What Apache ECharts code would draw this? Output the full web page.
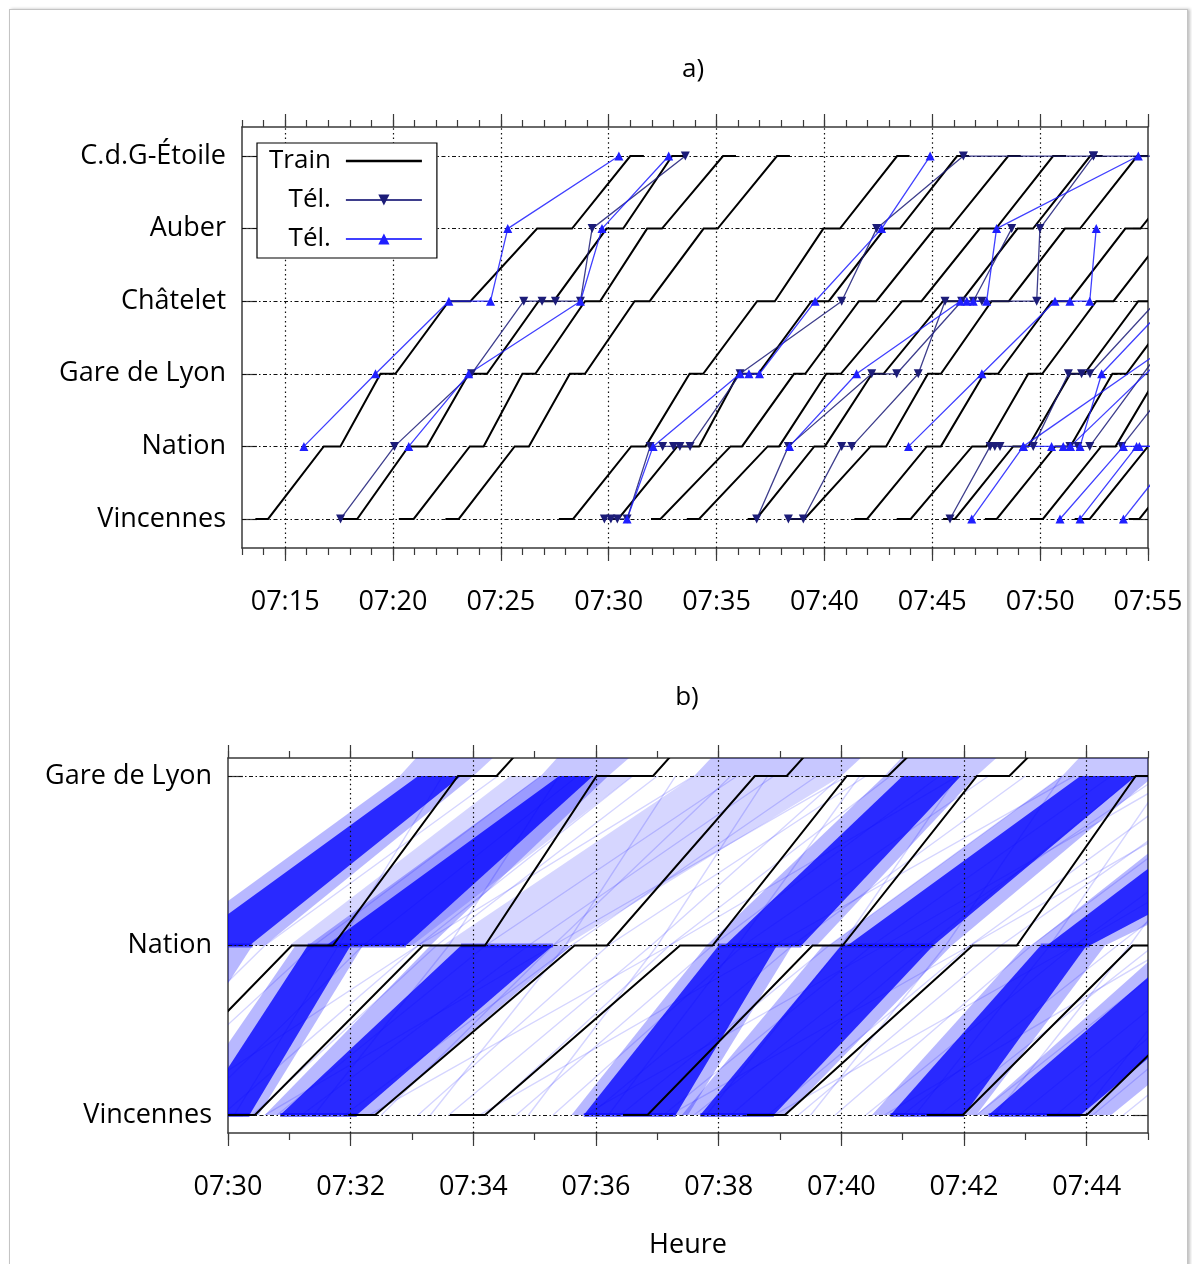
<!DOCTYPE html>
<html><head><meta charset="utf-8">
<script src="https://cdn.jsdelivr.net/npm/echarts@6/dist/echarts.min.js"></script>
<style>
html,body{margin:0;padding:0;background:#fff;}
#frame{position:absolute;left:9px;top:9px;width:1177px;height:1270px;border:1px solid #c4c4c4;box-shadow:2px 0 3px rgba(0,0,0,0.25);}
#chart{position:absolute;left:0;top:0;width:1192px;height:1264px;}
</style></head><body>
<div id="frame"></div>
<div id="chart"></div>
<script>
// ---------- DATA (minutes after 07:00) ----------
const stations = ['Vincennes','Nation','Gare de Lyon','Châtelet','Auber','C.d.G-Étoile'];
const stationLevels = [0,1,2,3,4,5];
const bottomStationLevels = [0,1,2];

const topMajorTicks = [15,20,25,30,35,40,45,50,55];
const topMinorTicks = [13,14,15,16,17,18,19,20,21,22,23,24,25,26,27,28,29,30,31,32,33,34,35,36,37,38,39,40,41,42,43,44,45,46,47,48,49,50,51,52,53,54,55];
const bottomMajorTicks = [30,32,34,36,38,40,42,44];
const bottomMinorTicks = [30,31,32,33,34,35,36,37,38,39,40,41,42,43,44,45];

// trains: [arrival, departure] at each station
const trainVincennes = [[13.62,14.21],[17.64,18.34],[20.27,20.96],[22.43,23.05],[27.69,28.35],[29.98,30.44],[31.96,32.4],[33.62,34.19],[36.44,36.84],[38.46,39.08],[41.39,41.98],[43.35,44.0],[45.5,46.05],[47.44,47.99],[49.53,50.13],[51.6,52.3],[54.1,54.6]];
const trainNation = [[16.79,17.56],[20.72,21.57],[23.56,24.2],[25.64,26.3],[31.04,31.71],[33.18,34.19],[35.65,36.18],[37.37,37.9],[39.53,40.02],[42.14,42.86],[44.75,45.4],[46.85,47.5],[48.75,49.45],[50.7,51.4],[52.83,53.5],[55.0,55.7],[57.3,58.0]];
const trainGareDeLyon = [[19.42,20.11],[23.51,24.36],[26.0,26.6],[28.2,28.9],[33.75,34.38],[36.01,36.93],[38.59,39.11],[40.09,40.76],[42.21,42.74],[44.8,45.4],[47.4,48.05],[49.45,50.1],[51.4,52.05],[53.35,54.0],[55.5,56.1],[57.7,58.3],[60.0,60.6]];
const trainChatelet = [[22.59,23.59],[26.75,27.45],[28.9,29.6],[31.2,31.9],[36.88,37.7],[39.4,40.2],[41.6,42.4],[43.6,44.5],[45.5,46.35],[47.75,48.55],[50.55,51.35],[52.6,53.4],[54.55,55.35],[56.5,57.3],[58.6,59.4],[60.8,61.6],[63.0,63.8]];
const trainAuber = [[26.68,28.3],[29.9,30.67],[31.78,32.47],[34.4,35.05],[39.95,40.72],[42.8,43.5],[45.1,45.8],[47.2,47.95],[48.95,49.67],[51.15,51.85],[53.95,54.65],[56.0,56.7],[57.9,58.6],[59.9,60.6],[62.0,62.7],[64.0,64.7],[66.0,66.7]];
const trainEtoile = [[31.0,31.63],[32.94,33.6],[35.3,35.9],[37.8,38.4],[43.37,43.95],[46.15,46.7],[48.52,49.1],[50.6,51.2],[52.32,52.9],[54.5,55.1],[57.3,57.9],[59.4,60.0],[61.0,61.6],[63.0,63.6],[65.0,65.6],[67.0,67.6],[69.0,69.6]];

// phone traces, top chart: [time, station level]
const telDownTraces = [
  [[17.57,0],[20.07,1],[23.64,2],[26.06,3],[26.91,3],[27.53,3],[28.69,3],[29.23,4],[33.55,5]],
  [[29.8,0],[30.1,0],[30.4,0],[30.85,0],[31.92,1],[32.5,1],[33.0,1],[33.3,1],[33.77,1],[36.09,2],[40.8,3],[42.42,4],[46.44,5],[52.47,5],[57.0,5]],
  [[36.86,0],[38.33,1],[42.19,2],[43.35,2],[46.36,3],[46.9,3],[48.68,4]],
  [[38.33,0],[39.02,0],[40.8,1],[41.27,1],[44.35,2],[45.59,3],[47.3,3],[49.84,3],[49.99,4],[52.47,5]],
  [[45.82,0],[47.68,1],[47.9,1],[48.14,1],[49.68,1],[51.31,2],[51.92,2],[52.31,2],[55.4,3]],
  [[51.38,1],[51.75,1],[52.3,1],[58.0,3.3]],
  [[53.78,1],[57.5,2.4]]
];
const telUpTraces = [
  [[15.87,1],[19.19,2],[22.59,3],[24.52,3],[25.32,4],[30.47,5]],
  [[20.73,1],[23.51,2],[28.69,3],[29.69,4],[32.78,5]],
  [[30.85,0],[32.06,1],[36.09,2],[36.5,2],[36.99,2],[39.57,3],[42.65,4],[44.9,5]],
  [[38.38,1],[41.49,2],[46.3,3],[46.6,3],[46.9,3],[47.52,3],[47.98,4],[54.55,5]],
  [[43.9,1],[47.3,2],[50.69,3],[51.38,3],[52.3,3],[52.6,4]],
  [[46.83,0],[49.22,1],[50.53,1],[51.07,1],[51.4,1],[51.85,1],[52.85,2],[57.0,3.3]],
  [[50.92,0],[53.86,1],[54.6,1],[55.3,1]],
  [[51.85,0],[54.47,1],[55.3,1]],
  [[53.86,0],[56.5,1]],
  [[51.4,1],[57.0,2.6]],
  [[49.22,1],[56.5,2.5]]
];

// bottom chart: bundles of phone traces between two stations [startFrom, startTo, endFrom, endTo]
const bandHaloVN = [[27.3,28.6,29.2,30.4],[29.2,30.5,31.1,32.2],[30.6,32.4,33.3,35.6],[35.6,37.5,37.8,39.2],[37.4,39.1,39.7,41.8],[40.5,42.2,43.0,44.3],[42.2,44.4,45.3,47.8]];
const bandCoreVN = [[29.5,30.35,31.3,32.0],[30.85,32.1,33.8,35.3],[35.8,37.3,38.0,38.95],[37.7,38.9,40.0,41.5],[40.8,42.0,43.25,44.0],[42.4,43.9,45.6,47.2]];
const bandHaloNG = [[29.0,30.6,32.8,34.0],[31.3,33.3,35.1,36.2],[37.8,39.6,40.7,42.2],[39.8,41.8,43.6,45.1],[43.1,44.3,46.6,50.0]];
const bandLightNG = [[33.5,35.5,37.6,40.0],[31.0,33.0,34.6,36.6]];
const bandCoreNG = [[29.3,30.35,33.1,33.8],[31.6,32.9,35.4,35.95],[38.1,39.35,41.0,41.95],[40.1,41.5,43.9,44.8],[43.35,44.05,47.0,49.3]];
const bandHaloGC = [[32.8,34.0,35.3,37.0],[35.1,36.2,37.6,39.4],[37.6,40.0,40.2,43.0],[40.7,42.2,43.3,45.3],[43.6,45.1,46.2,48.3]];
const dwellVincennes = [[29.5,30.35],[30.85,32.1],[35.8,37.3],[37.7,38.9],[40.8,42.0],[42.4,43.9]];
const dwellNation = [[29.2,30.4],[31.3,32.9],[33.8,35.3],[38.0,39.35],[40.0,41.5],[43.25,44.05]];
// individual faint phone traces [t Vincennes, t Nation, t Gare de Lyon]
const faintTraces = [
 [29.4,32.2,35.7],[29.9,33.1,36.6],[30.4,33.4,37.0],[30.8,34.2,38.3],[31.2,34.9,38.9],[31.9,35.6,39.6],
 [32.5,35.3,38.2],[33.1,36.2,40.4],[33.6,36.9,40.0],[34.2,37.2,40.8],[34.7,37.9,41.6],[35.3,38.4,42.4],
 [35.9,39.2,43.0],[36.4,39.8,43.6],[37.1,40.5,44.4],[37.6,41.1,45.2],[38.2,41.4,44.8],[38.8,42.1,45.9],
 [39.3,42.6,46.5],[39.9,43.1,46.8],[40.4,43.8,47.6],[41.0,44.5,48.1],[41.6,45.1,48.7],[42.2,45.7,49.3],
 [42.9,46.3,50.0],[43.5,46.8,50.6],[44.1,47.4,51.1],[44.6,48.0,51.7],[30.1,31.8,33.5],[31.4,33.6,35.4],
 [33.3,35.5,37.3],[34.9,37.0,38.8],[36.2,38.3,40.3],[37.8,40.0,41.9],[39.5,41.7,43.6],[41.2,43.4,45.3],
 [42.5,44.7,46.7],[43.9,46.1,48.2],[28.9,33.1,37.6],[30.6,35.3,40.1],[32.3,37.2,41.9],[34.1,38.9,43.8],
 [35.8,40.7,45.5],[37.2,42.1,46.9],[38.9,43.8,48.5],[40.7,45.4,50.3],[27.8,30.6,34.4],[28.4,31.4,35.1]
];

// ---------- CHART ----------
const FONT = '"Open Sans", Lato, sans-serif';
const AX = '#3a3a3a';
const NAVY = '#1c1c78', BLUE = '#1f1fff';
const TEL2 = 'Tél.\u200b';
const LINE_ICON = 'path://M0,0L0.01,0L0.01,0.01Z M0,5.5L100,5.5L100,8.5L0,8.5Z M99.99,13.99L100,13.99L100,14Z';
const trainTables = [trainVincennes, trainNation, trainGareDeLyon, trainChatelet, trainAuber, trainEtoile];
const lbl = v => '07:' + (Math.round(v) < 10 ? '0' : '') + Math.round(v);

function xAxes(grid, min, max, minor, major, withLabel, name) {
  const line = {show:true, onZero:false, lineStyle:{color:AX, width:1.5}};
  const tk = {color:AX, width:1.2};
  const base = {type:'value', gridIndex:grid, min, max, splitLine:{show:false}};
  return [
    Object.assign({}, base, {position:'bottom', axisLine:line, axisTick:{customValues:minor, length:7, lineStyle:tk},
      axisLabel:{show:withLabel, customValues:major, formatter:lbl, margin:41, fontSize:27, color:'#000', fontFamily:FONT},
      name:name||'', nameLocation:'middle', nameGap:99, nameTextStyle:{fontSize:27, color:'#000', fontFamily:FONT}}),
    Object.assign({}, base, {position:'bottom', axisLine:{show:false,onZero:false}, axisTick:{customValues:major, length:13, lineStyle:tk}, axisLabel:{show:false}}),
    Object.assign({}, base, {position:'top', axisLine:line, axisTick:{customValues:minor, length:7, lineStyle:tk}, axisLabel:{show:false}}),
    Object.assign({}, base, {position:'top', axisLine:{show:false,onZero:false}, axisTick:{customValues:major, length:13, lineStyle:tk}, axisLabel:{show:false}})
  ];
}
function yAxes(grid, min, max, levels) {
  const line = {show:true, onZero:false, lineStyle:{color:AX, width:1.5}};
  const tk = {customValues:levels, inside:true, length:15, lineStyle:{color:AX, width:1.2}};
  return [
    {type:'value', gridIndex:grid, position:'left', min, max, axisLine:line, axisTick:tk, splitLine:{show:false},
     axisLabel:{customValues:levels, formatter:v => stations[Math.round(v)], margin:16, fontSize:27, color:'#000', fontFamily:FONT}},
    {type:'value', gridIndex:grid, position:'right', min, max, axisLine:line, axisTick:tk, splitLine:{show:false}, axisLabel:{show:false}}
  ];
}

function gridHelper(xi, yi, vLines, hLines) {
  return {type:'line', xAxisIndex:xi, yAxisIndex:yi, data:[[vLines[0], -50]], symbol:'none', silent:true, z:1,
    lineStyle:{opacity:0},
    markLine:{silent:true, symbol:'none', label:{show:false}, animation:false,
      data: vLines.map(v => ({xAxis:v, lineStyle:{color:'#111', width:1.2, type:[1.5,3.2]}}))
        .concat(hLines.map(s => ({yAxis:s, lineStyle:{color:'#111', width:1.2, type:[4,2.5,1.5,2.5]}})))}};
}

function trainSeries(xi, yi, nStations) {
  return {type:'custom', xAxisIndex:xi, yAxisIndex:yi, clip:true, silent:true, z:5,
    data: trainVincennes.map((v, i) => [v[0], 0, i]),
    renderItem: (params, api) => {
      const i = api.value(2); const pts = [];
      for (let s = 0; s < nStations; s++) {
        pts.push(api.coord([trainTables[s][i][0], s]));
        pts.push(api.coord([trainTables[s][i][1], s]));
      }
      return {type:'polyline', shape:{points:pts}, style:{stroke:'#000', lineWidth:2, fill:null}};
    }};
}

function bandSeries(bands, s0, s1, fill, z) {
  return {type:'custom', xAxisIndex:4, yAxisIndex:2, clip:true, silent:true, z:z, data:bands,
    renderItem: (params, api) => ({type:'polygon', shape:{points:[
      api.coord([api.value(0), s0]), api.coord([api.value(1), s0]),
      api.coord([api.value(3), s1]), api.coord([api.value(2), s1])]},
      style:{fill:fill, stroke:null}})};
}
function dwellSeries(dw, s) {
  return {type:'custom', xAxisIndex:4, yAxisIndex:2, clip:true, silent:true, z:3, data:dw,
    renderItem: (params, api) => {
      const a = api.coord([api.value(0), s]), b = api.coord([api.value(1), s]);
      return {type:'line', shape:{x1:a[0], y1:a[1], x2:b[0], y2:b[1]}, style:{stroke:'rgba(0,0,255,0.55)', lineWidth:4}};
    }};
}

const series = [];
series.push(gridHelper(0, 0, [15,20,25,30,35,40,45,50], stationLevels));
series.push(gridHelper(4, 2, [32,34,36,38,40,42,44], bottomStationLevels));
series.push(trainSeries(0, 0, 6));
series.push({type:'line', name:'Train', xAxisIndex:0, yAxisIndex:0, data:[[20,-50],[21,-50]], symbol:'none', showSymbol:false,
  lineStyle:{color:'#000', width:2.5}, itemStyle:{color:'#000'}});
telDownTraces.forEach(tr => series.push({type:'line', name:'Tél.', xAxisIndex:0, yAxisIndex:0, data:tr, z:6,
  symbol:'triangle', symbolRotate:180, symbolSize:9, showSymbol:true, showAllSymbol:true, clip:true, silent:true,
  lineStyle:{color:NAVY, width:1.3, opacity:0.85}, itemStyle:{color:NAVY}}));
telUpTraces.forEach(tr => series.push({type:'line', name:TEL2, xAxisIndex:0, yAxisIndex:0, data:tr, z:6,
  symbol:'triangle', symbolSize:9, showSymbol:true, showAllSymbol:true, clip:true, silent:true,
  lineStyle:{color:BLUE, width:1.3, opacity:0.85}, itemStyle:{color:BLUE}}));

// bottom chart
series.push(bandSeries(bandHaloVN, 0, 1, 'rgba(0,0,255,0.28)', 2));
series.push(bandSeries(bandHaloNG, 1, 2, 'rgba(0,0,255,0.28)', 2));
series.push(bandSeries(bandLightNG, 1, 2, 'rgba(0,0,255,0.16)', 2));
series.push(bandSeries(bandHaloGC, 2, 3, 'rgba(0,0,255,0.22)', 2));
series.push(bandSeries(bandCoreVN, 0, 1, 'rgba(0,0,255,0.78)', 3));
series.push(bandSeries(bandCoreNG, 1, 2, 'rgba(0,0,255,0.78)', 3));
series.push(dwellSeries(dwellVincennes, 0));
series.push(dwellSeries(dwellNation, 1));
series.push({type:'custom', xAxisIndex:4, yAxisIndex:2, clip:true, silent:true, z:3, data:faintTraces,
  renderItem: (params, api) => ({type:'polyline', shape:{points:[
    api.coord([api.value(0),0]), api.coord([api.value(1),1]), api.coord([api.value(2),2])]},
    style:{stroke:'rgba(0,0,255,0.17)', lineWidth:1.4, fill:null}})});
series.push(trainSeries(4, 2, 4));

const option = {
  animation:false,
  backgroundColor:'transparent',
  grid:[{left:242, top:127, width:906, height:421}, {left:228, top:758, width:920, height:375}],
  xAxis: xAxes(0, 13, 55, topMinorTicks, topMajorTicks, true).concat(xAxes(1, 30, 45, bottomMinorTicks, bottomMajorTicks, true, 'Heure')),
  yAxis: yAxes(0, -0.4, 5.4, stationLevels).concat(yAxes(1, -0.106, 2.106, bottomStationLevels)),
  legend:{left:257, top:143, orient:'vertical', align:'right', selectedMode:false,
    data:[{name:'Train', icon:LINE_ICON, itemStyle:{color:'#000'}},'Tél.',TEL2], itemWidth:76, itemHeight:14, itemGap:11,
    padding:[4,14,5,12], borderColor:'#000', borderWidth:1.2, backgroundColor:'#fff', z:20,
    textStyle:{fontSize:26, fontFamily:FONT, color:'#000', lineHeight:28, padding:[0,10,0,0]}},
  graphic:[
    {type:'text', x:693, y:70, style:{text:'a)', fontSize:26, fontFamily:FONT, fill:'#000', align:'center', verticalAlign:'middle'}},
    {type:'text', x:687, y:698, style:{text:'b)', fontSize:26, fontFamily:FONT, fill:'#000', align:'center', verticalAlign:'middle'}}
  ],
  series: series
};
const chart = echarts.init(document.getElementById('chart'), null, {renderer:'canvas'});
chart.setOption(option);
</script></body></html>
